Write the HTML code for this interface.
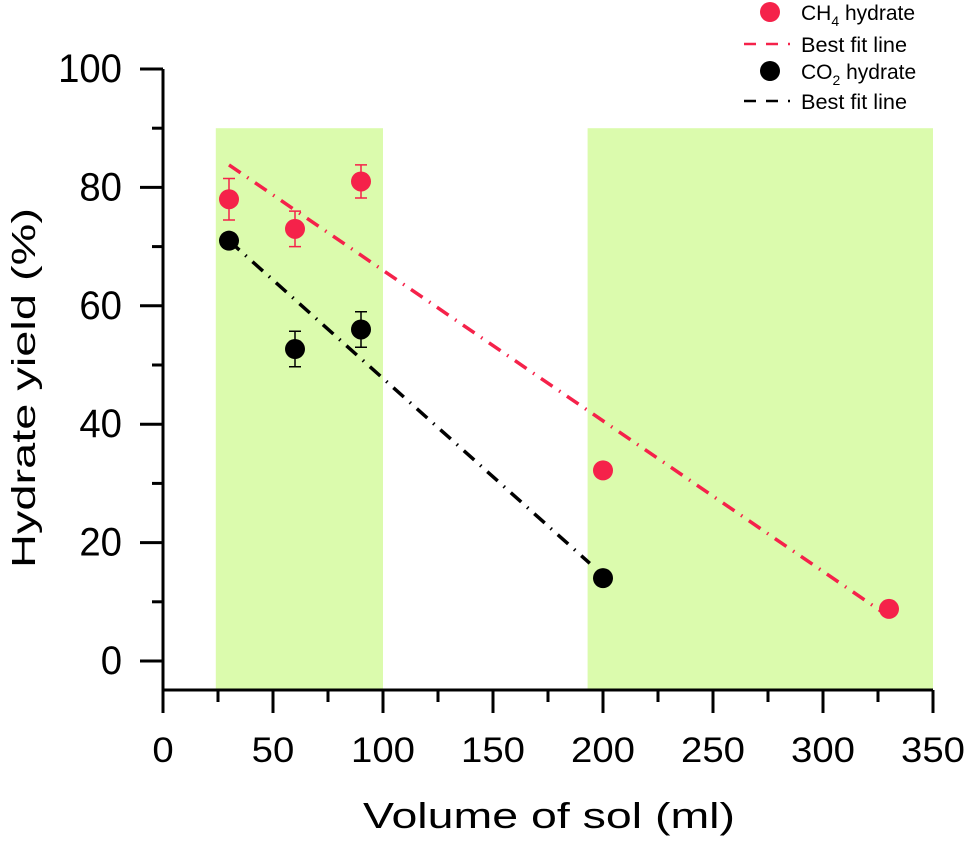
<!DOCTYPE html>
<html><head><meta charset="utf-8"><style>
body{margin:0;background:#fff;width:969px;height:837px;overflow:hidden}
svg{font-family:"Liberation Sans",Arial,sans-serif}
</style></head><body>
<svg id="chart" width="969" height="837">
<g id="bands"></g><g id="lines"></g><g id="points"></g><g id="axes"></g>
<g id="legend">
 <circle cx="770" cy="12" r="10" fill="#F5224A"/>
 <text x="801" y="20" font-size="21">CH<tspan font-size="14" dy="6">4</tspan><tspan dy="-6"> hydrate</tspan></text>
 <line x1="744" y1="44" x2="790" y2="44" stroke="#F5224A" stroke-width="2.5" stroke-dasharray="12,10"/>
 <text x="801" y="52" font-size="21" textLength="106" lengthAdjust="spacingAndGlyphs">Best fit line</text>
 <circle cx="770" cy="71" r="10" fill="#000"/>
 <text x="801" y="79" font-size="21">CO<tspan font-size="14" dy="6">2</tspan><tspan dy="-6"> hydrate</tspan></text>
 <line x1="744" y1="101" x2="790" y2="101" stroke="#000" stroke-width="2.5" stroke-dasharray="12,10"/>
 <text x="801" y="109" font-size="21" textLength="106" lengthAdjust="spacingAndGlyphs">Best fit line</text>
</g>
<text x="363" y="828" font-size="36" textLength="372" lengthAdjust="spacingAndGlyphs">Volume of sol (ml)</text>
<text transform="translate(35,568) rotate(-90)" font-size="33" textLength="360" lengthAdjust="spacingAndGlyphs">Hydrate yield (%)</text>
</svg>
<script>
const bandRanges=[[24,100],[193,350]];
const bandTop=90;
const ch4X=[30,60,90,200,330];
const ch4Y=[78,73,81,32.2,8.8];
const ch4Err=[3.5,3,2.8,0,1.2];
const co2X=[30,60,90,200];
const co2Y=[71,52.7,56,14];
const co2Err=[0,3,3,0];
const ch4Fit=[[30,83.8],[330,7.5]];
const co2Fit=[[30,71],[194,16.5]];
const xTicks=[0,50,100,150,200,250,300,350];
const yTicks=[0,20,40,60,80,100];
const X=v=>163+v*2.2;
const Y=v=>661-v*5.92;
const NS="http://www.w3.org/2000/svg";
function mk(p,t,a){const e=document.createElementNS(NS,t);for(const k in a)e.setAttribute(k,a[k]);document.getElementById(p).appendChild(e);return e;}
bandRanges.forEach((b,i)=>{
 const r=mk('bands','rect',{x:X(b[0]),y:Y(bandTop),width:X(b[1])-X(b[0]),height:690-Y(bandTop),fill:'#DBFBAD'});
 
 
});
[[ch4Fit,'#F5224A','ch4-fit-line'],[co2Fit,'#000','co2-fit-line']].forEach(f=>{
 const l=mk('lines','line',{x1:X(f[0][0][0]),y1:Y(f[0][0][1]),x2:X(f[0][1][0]),y2:Y(f[0][1][1]),stroke:f[1],'stroke-width':3.5,'stroke-dasharray':'14,8,1.5,8'});
 
 
});
function series(xs,ys,es,col,nm){
 xs.forEach((x,i)=>{
  if(es[i]>0){
   const cx=X(x),t=Y(ys[i]+es[i]),b=Y(ys[i]-es[i]);
   const g=mk('points','path',{d:`M${cx},${t}V${b}M${cx-6},${t}H${cx+6}M${cx-6},${b}H${cx+6}`,stroke:col,'stroke-width':1.5,fill:'none'});
   
   
  }
  const c=mk('points','circle',{cx:X(x),cy:Y(ys[i]),r:10,fill:col});
  
  
 });
}
series(ch4X,ch4Y,ch4Err,'#F5224A','ch4');
series(co2X,co2Y,co2Err,'#000','co2');
const ax=mk('axes','path',{d:`M163,${Y(100)}V690H${X(350)}`,stroke:'#000','stroke-width':3,fill:'none'});


xTicks.forEach(v=>{
 mk('axes','line',{x1:X(v),y1:690,x2:X(v),y2:713,stroke:'#000','stroke-width':3});
 if(v<350)mk('axes','line',{x1:X(v+25),y1:690,x2:X(v+25),y2:702,stroke:'#000','stroke-width':3});
 const s=String(v);
 const t=mk('axes','text',{x:X(v),y:762,'font-size':35,'text-anchor':'middle',textLength:21.3*s.length,lengthAdjust:'spacingAndGlyphs'});t.textContent=s;
 
 
});
yTicks.forEach(v=>{
 mk('axes','line',{x1:140,y1:Y(v),x2:163,y2:Y(v),stroke:'#000','stroke-width':3});
 if(v<100)mk('axes','line',{x1:152,y1:Y(v+10),x2:163,y2:Y(v+10),stroke:'#000','stroke-width':3});
 const s=String(v);
 const t=mk('axes','text',{x:122,y:Y(v)+13,'font-size':40,'text-anchor':'end',textLength:21.3*s.length,lengthAdjust:'spacingAndGlyphs'});t.textContent=s;
 
 
});
</script>
</body></html>
